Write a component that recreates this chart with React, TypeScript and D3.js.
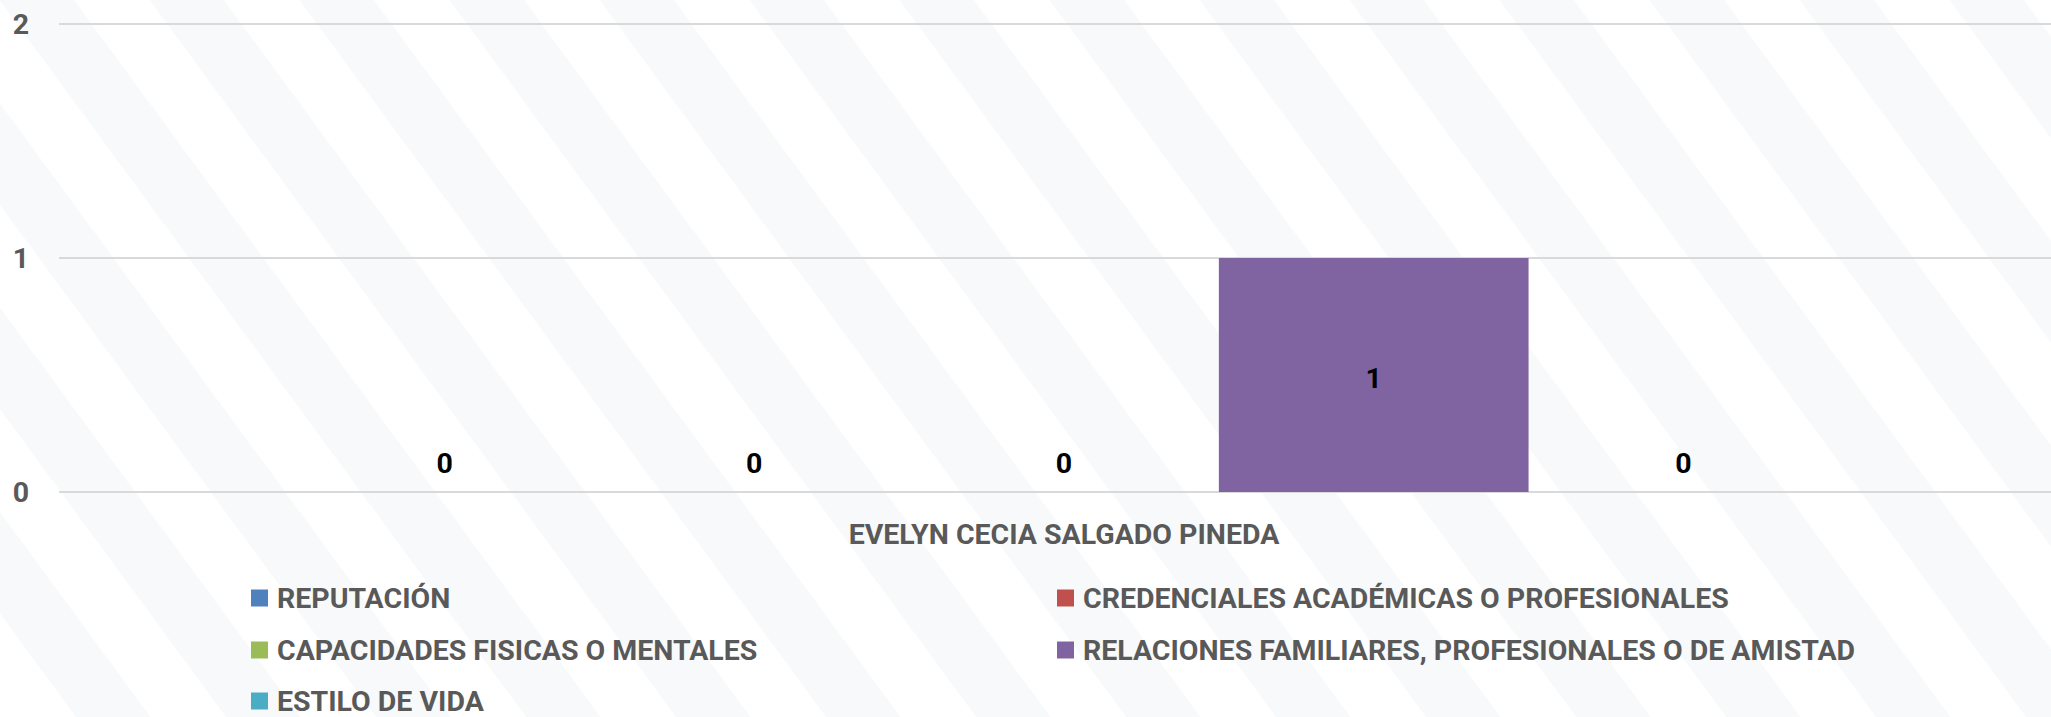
import React from "react";
import * as d3 from "d3";

const category = "EVELYN CECIA SALGADO PINEDA";
const seriesNames = [
  "REPUTACIÓN",
  "CREDENCIALES ACADÉMICAS O PROFESIONALES",
  "CAPACIDADES FISICAS O MENTALES",
  "RELACIONES FAMILIARES, PROFESIONALES O DE AMISTAD",
  "ESTILO DE VIDA",
];
const seriesValues = [0, 0, 0, 1, 0];
const seriesColors = ["#4F81BD", "#C0504D", "#9BBB59", "#8064A2", "#4BACC6"];
const yTicks = [0, 1, 2];

const W = 2051;
const H = 717;
const FONT = "Roboto, 'Open Sans', sans-serif";

export default function App() {
  const plotLeft = 59;
  const plotRight = 2069;
  const y = d3.scaleLinear().domain([0, 2]).range([492, 24]);
  const xCat = d3.scaleBand<string>().domain([category]).range([plotLeft, plotRight]).paddingInner(0).paddingOuter(0.149);
  const x0 = xCat(category)!;
  const xSeries = d3.scaleBand<string>().domain(seriesNames).range([x0, x0 + xCat.bandwidth()]).padding(0);

  const legendCols = [251, 1057];
  const legendRows = [598, 650, 701];

  const stripes = d3.range(-20, 40).map((i) => i * 150);

  return (
    <div style={{ position: "absolute", left: 0, top: 0 }}>
      <svg width={W} height={H} style={{ display: "block" }} fontFamily={FONT}>
        <defs>
          <clipPath id="clip">
            <rect x={0} y={0} width={W} height={H} />
          </clipPath>
        </defs>
        <rect x={0} y={0} width={W} height={H} fill="#ffffff" />
        <g clipPath="url(#clip)">
          {stripes.map((s, i) => (
            <line key={i} x1={s} y1={-50} x2={s + 600} y2={H + 50} stroke="#f8f9fa" strokeWidth={60} />
          ))}
        </g>
        {yTicks.map((t) => (
          <g key={t}>
            <line x1={plotLeft} x2={W} y1={y(t)} y2={y(t)} stroke="#d9d9d9" strokeWidth={2} />
            <text x={29} y={y(t)} dy="0.36em" textAnchor="end" fontSize={28.5} fontWeight="bold" fill="#595959">
              {t}
            </text>
          </g>
        ))}
        {seriesNames.map((name, i) => {
          const v = seriesValues[i];
          const bx = xSeries(name)!;
          const bw = xSeries.bandwidth();
          return (
            <g key={name}>
              {v > 0 && <rect x={bx} y={y(v)} width={bw} height={y(0) - y(v)} fill={seriesColors[i]} />}
              <text
                x={bx + bw / 2}
                y={v > 0 ? (y(v) + y(0)) / 2 + 3 : y(0) - 29}
                dy="0.36em"
                textAnchor="middle"
                fontSize={28.5}
                fontWeight="bold"
                fill="#000000"
              >
                {v}
              </text>
            </g>
          );
        })}
        <text x={x0 + xCat.bandwidth() / 2} y={534} dy="0.36em" textAnchor="middle" fontSize={28.5} fontWeight="bold" fill="#595959">
          {category}
        </text>
        {seriesNames.map((name, i) => {
          const cx = legendCols[i % 2];
          const cy = legendRows[Math.floor(i / 2)];
          return (
            <g key={"lg" + name}>
              <rect x={cx} y={cy - 8.5} width={17} height={17} fill={seriesColors[i]} />
              <text x={cx + 26} y={cy} dy="0.36em" fontSize={28.5} fontWeight="bold" fill="#595959">
                {name}
              </text>
            </g>
          );
        })}
      </svg>
    </div>
  );
}
